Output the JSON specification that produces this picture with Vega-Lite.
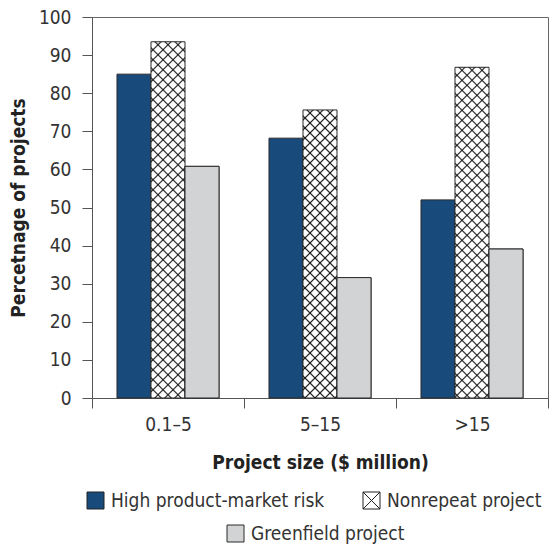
{
  "$schema": "https://vega.github.io/schema/vega-lite/v6.json",
  "width": 456,
  "height": 381,
  "autosize": {"type": "none"},
  "padding": {"left": 92, "top": 17, "right": 1, "bottom": 150},
  "background": "white",
  "params": [
    {"name": "hs", "expr": "[{offset:0.017,color:'rgba(0,0,0,0)'},{offset:0.02,color:'#222'},{offset:0.023,color:'rgba(0,0,0,0)'},{offset:0.037,color:'rgba(0,0,0,0)'},{offset:0.04,color:'#222'},{offset:0.043,color:'rgba(0,0,0,0)'},{offset:0.057,color:'rgba(0,0,0,0)'},{offset:0.06,color:'#222'},{offset:0.063,color:'rgba(0,0,0,0)'},{offset:0.077,color:'rgba(0,0,0,0)'},{offset:0.08,color:'#222'},{offset:0.083,color:'rgba(0,0,0,0)'},{offset:0.097,color:'rgba(0,0,0,0)'},{offset:0.1,color:'#222'},{offset:0.103,color:'rgba(0,0,0,0)'},{offset:0.117,color:'rgba(0,0,0,0)'},{offset:0.12,color:'#222'},{offset:0.123,color:'rgba(0,0,0,0)'},{offset:0.137,color:'rgba(0,0,0,0)'},{offset:0.14,color:'#222'},{offset:0.143,color:'rgba(0,0,0,0)'},{offset:0.157,color:'rgba(0,0,0,0)'},{offset:0.16,color:'#222'},{offset:0.163,color:'rgba(0,0,0,0)'},{offset:0.177,color:'rgba(0,0,0,0)'},{offset:0.18,color:'#222'},{offset:0.183,color:'rgba(0,0,0,0)'},{offset:0.197,color:'rgba(0,0,0,0)'},{offset:0.2,color:'#222'},{offset:0.203,color:'rgba(0,0,0,0)'},{offset:0.217,color:'rgba(0,0,0,0)'},{offset:0.22,color:'#222'},{offset:0.223,color:'rgba(0,0,0,0)'},{offset:0.237,color:'rgba(0,0,0,0)'},{offset:0.24,color:'#222'},{offset:0.243,color:'rgba(0,0,0,0)'},{offset:0.257,color:'rgba(0,0,0,0)'},{offset:0.26,color:'#222'},{offset:0.263,color:'rgba(0,0,0,0)'},{offset:0.277,color:'rgba(0,0,0,0)'},{offset:0.28,color:'#222'},{offset:0.283,color:'rgba(0,0,0,0)'},{offset:0.297,color:'rgba(0,0,0,0)'},{offset:0.3,color:'#222'},{offset:0.303,color:'rgba(0,0,0,0)'},{offset:0.317,color:'rgba(0,0,0,0)'},{offset:0.32,color:'#222'},{offset:0.323,color:'rgba(0,0,0,0)'},{offset:0.337,color:'rgba(0,0,0,0)'},{offset:0.34,color:'#222'},{offset:0.343,color:'rgba(0,0,0,0)'},{offset:0.357,color:'rgba(0,0,0,0)'},{offset:0.36,color:'#222'},{offset:0.363,color:'rgba(0,0,0,0)'},{offset:0.377,color:'rgba(0,0,0,0)'},{offset:0.38,color:'#222'},{offset:0.383,color:'rgba(0,0,0,0)'},{offset:0.397,color:'rgba(0,0,0,0)'},{offset:0.4,color:'#222'},{offset:0.403,color:'rgba(0,0,0,0)'},{offset:0.417,color:'rgba(0,0,0,0)'},{offset:0.42,color:'#222'},{offset:0.423,color:'rgba(0,0,0,0)'},{offset:0.437,color:'rgba(0,0,0,0)'},{offset:0.44,color:'#222'},{offset:0.443,color:'rgba(0,0,0,0)'},{offset:0.457,color:'rgba(0,0,0,0)'},{offset:0.46,color:'#222'},{offset:0.463,color:'rgba(0,0,0,0)'},{offset:0.477,color:'rgba(0,0,0,0)'},{offset:0.48,color:'#222'},{offset:0.483,color:'rgba(0,0,0,0)'},{offset:0.497,color:'rgba(0,0,0,0)'},{offset:0.5,color:'#222'},{offset:0.503,color:'rgba(0,0,0,0)'},{offset:0.517,color:'rgba(0,0,0,0)'},{offset:0.52,color:'#222'},{offset:0.523,color:'rgba(0,0,0,0)'},{offset:0.537,color:'rgba(0,0,0,0)'},{offset:0.54,color:'#222'},{offset:0.543,color:'rgba(0,0,0,0)'},{offset:0.557,color:'rgba(0,0,0,0)'},{offset:0.56,color:'#222'},{offset:0.563,color:'rgba(0,0,0,0)'},{offset:0.577,color:'rgba(0,0,0,0)'},{offset:0.58,color:'#222'},{offset:0.583,color:'rgba(0,0,0,0)'},{offset:0.597,color:'rgba(0,0,0,0)'},{offset:0.6,color:'#222'},{offset:0.603,color:'rgba(0,0,0,0)'},{offset:0.617,color:'rgba(0,0,0,0)'},{offset:0.62,color:'#222'},{offset:0.623,color:'rgba(0,0,0,0)'},{offset:0.637,color:'rgba(0,0,0,0)'},{offset:0.64,color:'#222'},{offset:0.643,color:'rgba(0,0,0,0)'},{offset:0.657,color:'rgba(0,0,0,0)'},{offset:0.66,color:'#222'},{offset:0.663,color:'rgba(0,0,0,0)'},{offset:0.677,color:'rgba(0,0,0,0)'},{offset:0.68,color:'#222'},{offset:0.683,color:'rgba(0,0,0,0)'},{offset:0.697,color:'rgba(0,0,0,0)'},{offset:0.7,color:'#222'},{offset:0.703,color:'rgba(0,0,0,0)'},{offset:0.717,color:'rgba(0,0,0,0)'},{offset:0.72,color:'#222'},{offset:0.723,color:'rgba(0,0,0,0)'},{offset:0.737,color:'rgba(0,0,0,0)'},{offset:0.74,color:'#222'},{offset:0.743,color:'rgba(0,0,0,0)'},{offset:0.757,color:'rgba(0,0,0,0)'},{offset:0.76,color:'#222'},{offset:0.763,color:'rgba(0,0,0,0)'},{offset:0.777,color:'rgba(0,0,0,0)'},{offset:0.78,color:'#222'},{offset:0.783,color:'rgba(0,0,0,0)'},{offset:0.797,color:'rgba(0,0,0,0)'},{offset:0.8,color:'#222'},{offset:0.803,color:'rgba(0,0,0,0)'}]"}
  ],
  "data": {
    "values": [
      {"size": "0.1–5", "series": "High product-market risk", "pct": 85},
      {"size": "0.1–5", "series": "Nonrepeat project", "pct": 93.5},
      {"size": "0.1–5", "series": "Greenfield project", "pct": 60.8},
      {"size": "5–15", "series": "High product-market risk", "pct": 68.2},
      {"size": "5–15", "series": "Nonrepeat project", "pct": 75.6},
      {"size": "5–15", "series": "Greenfield project", "pct": 31.6},
      {"size": ">15", "series": "High product-market risk", "pct": 52},
      {"size": ">15", "series": "Nonrepeat project", "pct": 86.8},
      {"size": ">15", "series": "Greenfield project", "pct": 39.1}
    ]
  },
  "config": {
    "font": "DejaVu Sans Condensed, sans-serif",
    "view": {"stroke": "#666", "strokeWidth": 1},
    "axis": {
      "labelFont": "DejaVu Sans Condensed, sans-serif",
      "titleFont": "DejaVu Sans Condensed, sans-serif",
      "labelFontSize": 19,
      "labelColor": "#333",
      "titleFontSize": 19,
      "titleFontWeight": "bold",
      "titleColor": "#222",
      "domainColor": "#555",
      "tickColor": "#555",
      "tickSize": 10,
      "grid": false
    },
    "legend": {
      "labelFont": "DejaVu Sans Condensed, sans-serif",
      "labelFontSize": 19,
      "labelColor": "#333",
      "labelLimit": 0,
      "symbolType": "square",
      "symbolSize": 289,
      "symbolStrokeWidth": 1,
      "symbolStrokeColor": "#222",
      "labelOffset": 6
    }
  },
  "encoding": {
    "x": {
      "field": "size", "type": "nominal",
      "sort": ["0.1–5", "5–15", ">15"],
      "scale": {"paddingInner": 0, "paddingOuter": 0},
      "axis": {"title": "Project size ($ million)", "labelAngle": 0, "tickBand": "extent", "labelPadding": 7, "titlePadding": 19}
    },
    "xOffset": {
      "field": "series", "type": "nominal",
      "sort": ["High product-market risk", "Nonrepeat project", "Greenfield project"],
      "scale": {"domain": ["High product-market risk", "Nonrepeat project", "Greenfield project"], "paddingInner": 0, "paddingOuter": 0.735}
    },
    "y": {
      "field": "pct", "type": "quantitative",
      "scale": {"domain": [0, 100]},
      "axis": {"title": "Percetnage of projects", "values": [0, 10, 20, 30, 40, 50, 60, 70, 80, 90, 100], "labelPadding": 11, "titleX": -64, "titleY": 190.5}
    }
  },
  "layer": [
    {
      "mark": {"type": "bar", "stroke": "#2a2a2a", "strokeWidth": 1},
      "encoding": {
        "color": {
          "field": "series", "type": "nominal",
          "scale": {"domain": ["High product-market risk", "Nonrepeat project", "Greenfield project"], "range": ["#194a7c", "#ffffff", "#d1d3d4"]},
          "legend": {
            "title": null,
            "values": ["High product-market risk", "Nonrepeat project"],
            "orient": "none",
            "legendX": -6,
            "legendY": 474,
            "direction": "horizontal",
            "columnPadding": 36,
            "encode": {
              "symbols": {
                "update": {
                  "shape": {"signal": "datum.value === 'Nonrepeat project' ? 'M-1,-1H1V1H-1ZM-1,-1L1,1M1,-1L-1,1' : 'square'"},
                  "stroke": {"value": "#222"},
                  "strokeWidth": {"value": 1}
                }
              }
            }
          }
        }
      }
    },
    {
      "transform": [{"filter": "datum.series === 'Nonrepeat project'"}],
      "mark": {"type": "bar", "strokeWidth": 0, "fill": {"expr": "{gradient:'linear',x1:0,y1:0,x2:500*bandwidth('xOffset')/(pow(bandwidth('xOffset'),2)+pow(scale('y',0)-scale('y',datum.pct),2)),y2:500*(scale('y',0)-scale('y',datum.pct))/(pow(bandwidth('xOffset'),2)+pow(scale('y',0)-scale('y',datum.pct),2)),stops:hs}"}}
    },
    {
      "transform": [{"filter": "datum.series === 'Nonrepeat project'"}],
      "mark": {"type": "bar", "strokeWidth": 0, "fill": {"expr": "{gradient:'linear',x1:1,y1:0,x2:1-500*bandwidth('xOffset')/(pow(bandwidth('xOffset'),2)+pow(scale('y',0)-scale('y',datum.pct),2)),y2:500*(scale('y',0)-scale('y',datum.pct))/(pow(bandwidth('xOffset'),2)+pow(scale('y',0)-scale('y',datum.pct),2)),stops:hs}"}}
    },
    {
      "transform": [{"filter": "datum.series === 'Greenfield project'"}],
      "mark": {"type": "bar", "fill": "#d1d3d4", "strokeWidth": 1},
      "encoding": {
        "stroke": {
          "field": "series", "type": "nominal",
          "scale": {"domain": ["Greenfield project"], "range": ["#2a2a2a"]},
          "legend": {
            "title": null,
            "orient": "none",
            "legendX": 134,
            "legendY": 507,
            "encode": {
              "symbols": {
                "update": {
                  "fill": {"value": "#d1d3d4"},
                  "stroke": {"value": "#222"},
                  "strokeWidth": {"value": 1}
                }
              }
            }
          }
        }
      }
    }
  ]
}
